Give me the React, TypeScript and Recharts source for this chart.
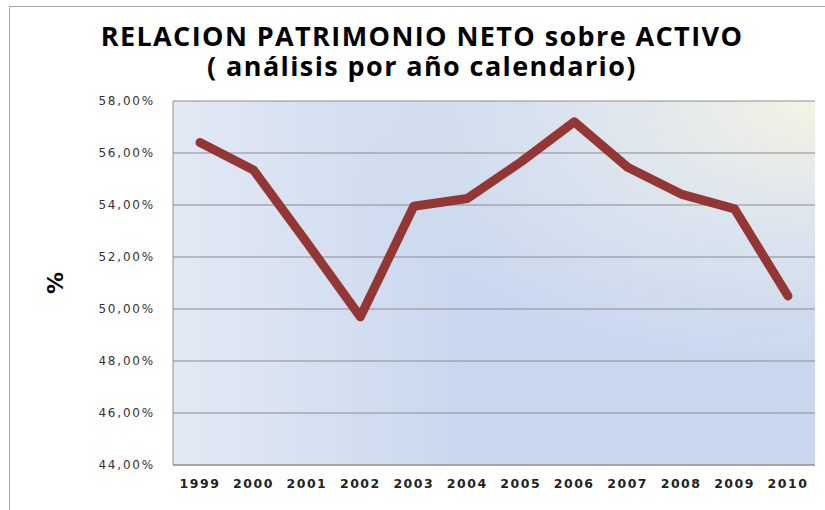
import { LineChart, Line, XAxis, YAxis, CartesianGrid } from "recharts";

const YEARS = ["1999", "2000", "2001", "2002", "2003", "2004", "2005", "2006", "2007", "2008", "2009", "2010"];
const RATIO = [56.4, 55.35, 52.55, 49.7, 53.95, 54.25, 55.65, 57.2, 55.45, 54.42, 53.85, 50.5];
const Y_TICKS = [44, 46, 48, 50, 52, 54, 56, 58];

const data = YEARS.map((year, i) => ({ year, value: RATIO[i] }));

const fmtPct = (v: number) => v.toFixed(2).replace(".", ",") + "%";

const titleStyle = {
  position: "absolute" as const,
  left: 19,
  width: 806,
  textAlign: "center" as const,
  fontFamily: "'Open Sans', sans-serif",
  fontWeight: 700,
  fontSize: 27,
  lineHeight: "27px",
  letterSpacing: 1.4,
  color: "#000",
  whiteSpace: "nowrap" as const,
};

export default function App() {
  return (
    <div style={{ position: "absolute", left: 0, top: 0, width: 825, height: 510, background: "#fff", overflow: "hidden" }}>
      <svg width={0} height={0} style={{ position: "absolute" }}>
        <defs>
          <linearGradient id="bgLin" x1="0" y1="0" x2="1" y2="0">
            <stop offset="0%" stopColor="#e3e9f4" />
            <stop offset="45%" stopColor="#c9d7ee" />
            <stop offset="100%" stopColor="#c8d6ee" />
          </linearGradient>
          <radialGradient id="bgRad" cx="1" cy="0" r="0.75">
            <stop offset="0%" stopColor="#f4f4e2" stopOpacity={1} />
            <stop offset="45%" stopColor="#e6ebee" stopOpacity={0.7} />
            <stop offset="100%" stopColor="#e6ebee" stopOpacity={0} />
          </radialGradient>
        </defs>
      </svg>
      <div
        style={{
          position: "absolute",
          left: 9,
          top: 6,
          width: 900,
          height: 600,
          borderLeft: "1px solid #a6a6a6",
          borderTop: "1px solid #a6a6a6",
        }}
      />
      <div style={{ ...titleStyle, top: 22 }}>RELACION PATRIMONIO NETO sobre ACTIVO</div>
      <div style={{ ...titleStyle, top: 52 }}>( análisis por año calendario)</div>
      <div
        style={{
          position: "absolute",
          left: 55,
          top: 283,
          transform: "translate(-50%, -50%) rotate(-90deg)",
          fontFamily: "'DejaVu Sans', sans-serif",
          fontWeight: 700,
          fontSize: 22,
          color: "#000",
        }}
      >
        %
      </div>
      <div style={{ position: "absolute", left: 0, top: 0 }}>
        <LineChart width={825} height={510} data={data} margin={{ top: 101, right: 10, bottom: 15, left: 0 }}>
          <CartesianGrid horizontal={false} vertical={false} fill="url(#bgLin)" />
          <CartesianGrid vertical={false} fill="url(#bgRad)" stroke="#8c8c8c" strokeDasharray="" />
          <XAxis
            dataKey="year"
            height={30}
            padding={{ left: 27, right: 27 }}
            tickLine={false}
            axisLine={{ stroke: "#8c8c8c" }}
            tickMargin={8}
            interval={0}
            tick={{ fontFamily: "'DejaVu Sans', sans-serif", fontWeight: 700, fontSize: 12.5, fill: "#222", letterSpacing: 1.5 }}
          />
          <YAxis
            width={173}
            domain={[44, 58]}
            ticks={Y_TICKS}
            tickFormatter={fmtPct}
            tickLine={false}
            axisLine={{ stroke: "#8c8c8c" }}
            tickMargin={12}
            tick={{ fontFamily: "'DejaVu Sans', sans-serif", fontSize: 12, fill: "#333", letterSpacing: 1.8 }}
          />
          <Line
            type="linear"
            dataKey="value"
            stroke="#943634"
            strokeWidth={9}
            strokeLinejoin="round"
            strokeLinecap="round"
            dot={false}
            activeDot={false}
            isAnimationActive={false}
          />
        </LineChart>
      </div>
    </div>
  );
}
